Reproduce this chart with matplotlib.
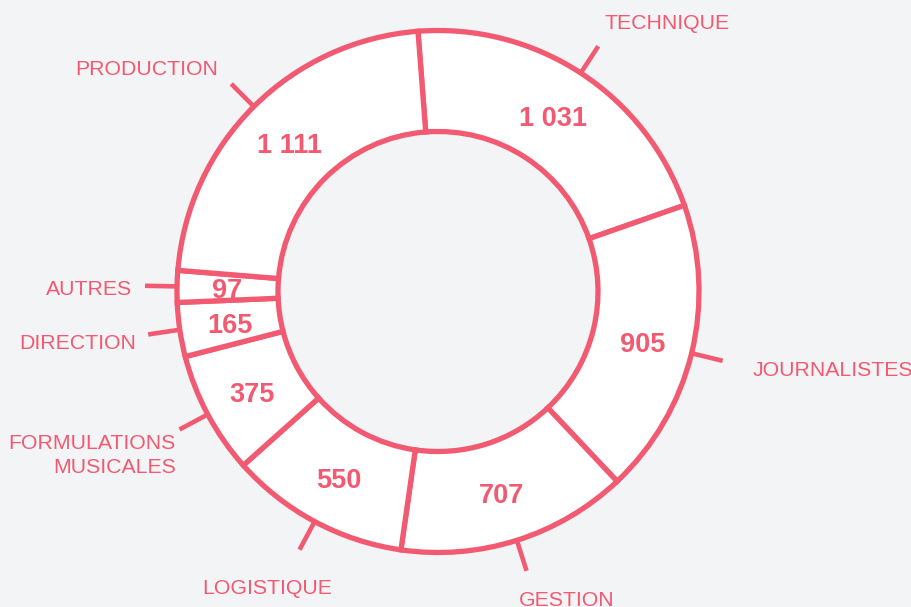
import numpy as np
import matplotlib
matplotlib.use("Agg")
import matplotlib.pyplot as plt

# data
categories = ["TECHNIQUE", "JOURNALISTES", "GESTION", "LOGISTIQUE",
              "FORMULATIONS\nMUSICALES", "DIRECTION", "AUTRES", "PRODUCTION"]
values = [1031, 905, 707, 550, 375, 165, 97, 1111]

PINK = "#f25a72"
BG = "#f3f4f6"

plt.rcParams['font.family'] = ['Liberation Sans', 'DejaVu Sans']

W, H = 911, 607
cx, cy = 438, H - 291.5
r_out, r_in = 261, 160
start = 94.4

# small label nudges in pixels (dx right, dy down)
nudge = {"TECHNIQUE": (-4, 3), "JOURNALISTES": (11, 5), "GESTION": (-13, 2),
         "LOGISTIQUE": (42, 13), "FORMULATIONS\nMUSICALES": (13, 17),
         "DIRECTION": (7, 6), "AUTRES": (6, 4), "PRODUCTION": (0, -1)}

fig = plt.figure(figsize=(W / 100, H / 100), dpi=100, facecolor=BG)
ax = fig.add_axes([0, 0, 1, 1])
ax.set_facecolor(BG)

ax.pie(values, startangle=start, counterclock=False, radius=r_out, center=(cx, cy),
       wedgeprops=dict(width=r_out - r_in, facecolor="white", edgecolor=PINK,
                       linewidth=3.8, joinstyle="miter"))

total = sum(values)
cum = 0
for cat, v in zip(categories, values):
    mid = np.radians(start - (cum + v / 2) / total * 360)
    cum += v
    c, s = np.cos(mid), np.sin(mid)

    # value inside the ring
    rm = (r_out + r_in) / 2
    ax.text(cx + rm * c, cy + rm * s - 4, f"{v:,}".replace(",", " "), ha="center", va="center",
            fontsize=19.5, fontweight="bold", color=PINK)

    # tick
    ax.plot([cx + r_out * c, cx + 293 * c], [cy + r_out * s, cy + 293 * s],
            color=PINK, lw=3.3, solid_capstyle="butt", zorder=0)

    # category label
    rl = 312
    ha = "left" if c > 0 else "right"
    if s > 0.75:
        va = "bottom"
    elif s < -0.75:
        va = "top"
    else:
        va = "center"
    dx, dy = nudge[cat]
    ax.text(cx + rl * c + dx, cy + rl * s - dy, cat, ha=ha, va=va, ma="right",
            fontsize=15.3, color=PINK, linespacing=1.34)

ax.set_xlim(0, W)
ax.set_ylim(0, H)
ax.set_aspect("equal")
ax.axis("off")

fig.savefig("out.png", dpi=100, facecolor=BG)
